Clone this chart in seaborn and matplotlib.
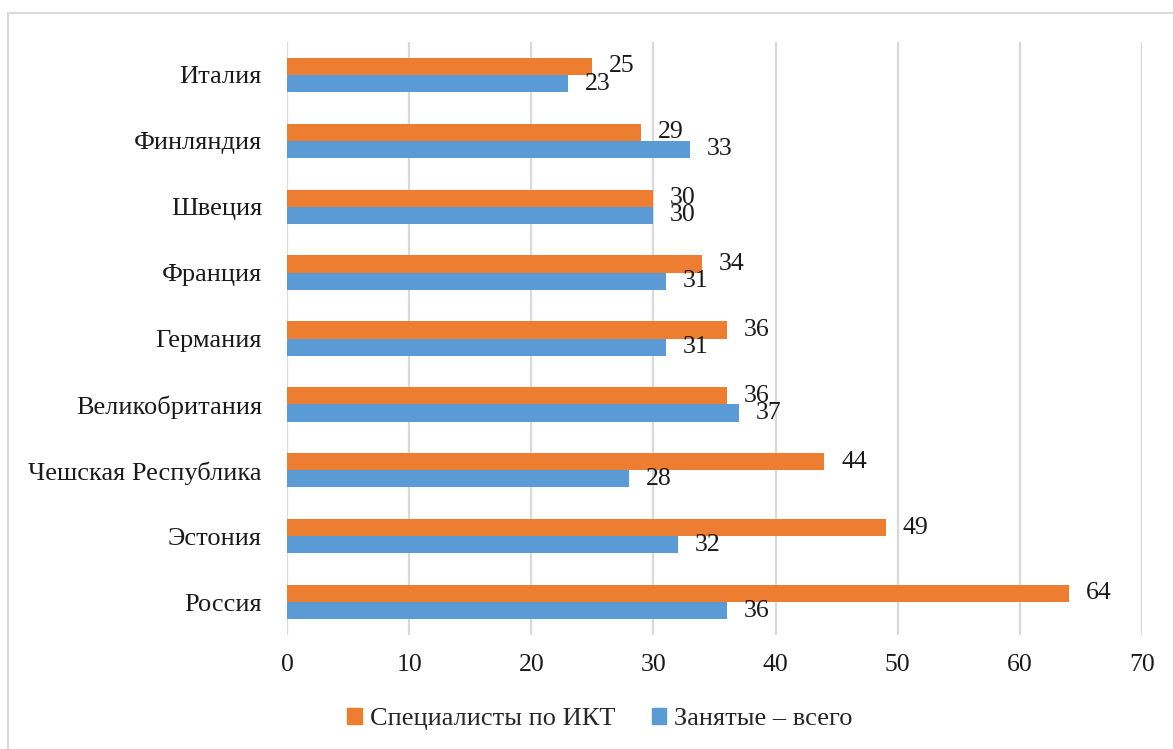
import matplotlib
matplotlib.use("Agg")
import matplotlib.pyplot as plt
import matplotlib.patches as mpatches
import seaborn as sns
import pandas as pd

countries = ["Италия", "Финляндия", "Швеция", "Франция", "Германия",
             "Великобритания", "Чешская Республика", "Эстония", "Россия"]
ict_specialists = [25, 29, 30, 34, 36, 36, 44, 49, 64]
employed_total = [23, 33, 30, 31, 31, 37, 28, 32, 36]
series_names = ["Специалисты по ИКТ", "Занятые – всего"]
x_ticks = [0, 10, 20, 30, 40, 50, 60, 70]

df = pd.DataFrame({
    "country": countries * 2,
    "value": ict_specialists + employed_total,
    "series": [series_names[0]] * len(countries) + [series_names[1]] * len(countries),
})

sns.set_theme(style="white")
plt.rcParams["font.family"] = ["Liberation Serif", "DejaVu Serif"]

W, H = 1173, 749
fig = plt.figure(figsize=(W / 100, H / 100), dpi=100)
ax = fig.add_axes([287 / W, 1 - 635 / H, (1142 - 287) / W, (635 - 42) / H])

palette = {series_names[0]: "#ED7D31", series_names[1]: "#5B9BD5"}
sns.barplot(data=df, x="value", y="country", hue="series", order=countries,
            hue_order=series_names, palette=palette, orient="h",
            width=0.52, saturation=1, ax=ax, legend=False, zorder=3,
            linewidth=0)

ax.set_xlim(0, 70)
ax.set_xticks(x_ticks)
ax.set_xticklabels([str(t) for t in x_ticks])
ax.set_xlabel("")
ax.set_ylabel("")
ax.grid(axis="x", color="#d9d9d9", linewidth=1.6, zorder=0)
ax.grid(axis="y", visible=False)
for s in ax.spines.values():
    s.set_visible(False)
ax.tick_params(axis="x", length=0, labelsize=18.5, colors="#1a1a1a", pad=14)
ax.tick_params(axis="y", length=0, labelsize=19, colors="#1a1a1a", pad=18)

# value labels at the end of each bar
for cont in ax.containers:
    ax.bar_label(cont, fmt="%d", padding=12, fontsize=18.5, color="#1a1a1a")

# legend centered below the plot
handles = [mpatches.Patch(color=palette[n], label=n) for n in series_names]
fig.legend(handles=handles, loc="center", bbox_to_anchor=(600 / W, 1 - 719 / H),
           ncol=2, frameon=False, fontsize=19, handlelength=0.55, handleheight=0.55,
           handletextpad=0.3, columnspacing=1.4)

# light chart-area border
fig.patches.append(mpatches.Rectangle((8 / W, -0.1), 1.2, 1 - 13 / H + 0.1,
                                      transform=fig.transFigure, fill=False,
                                      edgecolor="#d9d9d9", linewidth=1.5))

fig.savefig("out.png", dpi=100)
